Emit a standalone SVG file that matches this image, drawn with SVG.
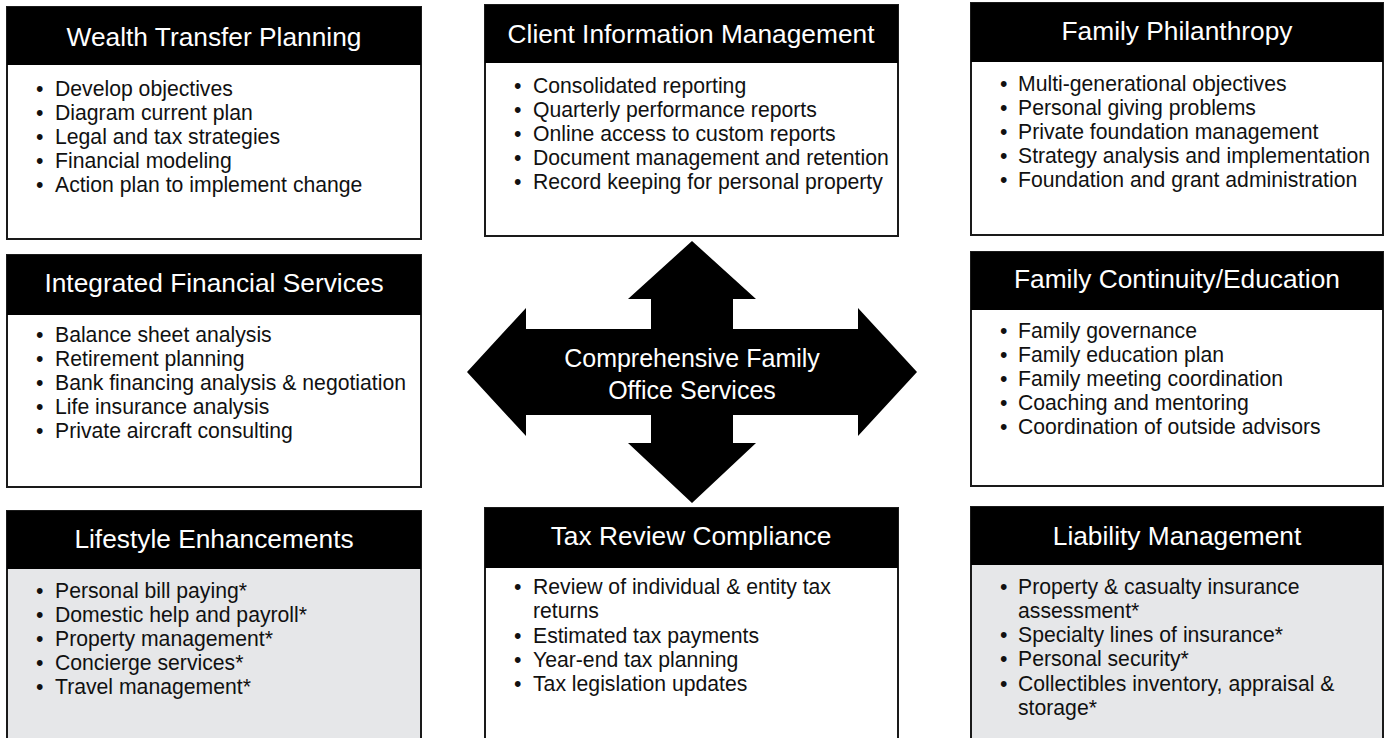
<svg xmlns="http://www.w3.org/2000/svg" width="1388" height="738" viewBox="0 0 1388 738">
<style>
.box{fill:#ffffff;stroke:#1a1a1a;stroke-width:2}
.gray{fill:#e6e7e9}
.hdr{fill:#000000}
.t{font-family:"Liberation Sans",Arial,sans-serif;font-size:26.3px;fill:#ffffff;text-anchor:middle}
.b{font-family:"Liberation Sans",Arial,sans-serif;font-size:21.2px;fill:#111111}
.c{font-family:"Liberation Sans",Arial,sans-serif;font-size:25px;fill:#ffffff;text-anchor:middle}
</style>
<rect width="1388" height="738" fill="#ffffff"/>
<g id="connectors"/>
<g id="center">
<path d="M692,241 L756,299 L733,299 L733,329 L858,329 L858,308 L917,372 L858,436 L858,415 L733,415 L733,443 L756,443 L692,503 L628,443 L651,443 L651,415 L526,415 L526,436 L467,372 L526,308 L526,329 L651,329 L651,299 L628,299 Z" fill="#000000"/>
<text class="c" x="692" y="367">Comprehensive Family</text>
<text class="c" x="692" y="399">Office Services</text>
</g>
<g id="wealth-transfer">
<rect class="box" x="7" y="7" width="414" height="232"/>
<rect class="hdr" x="7" y="7" width="414" height="58"/>
<text class="t" x="214" y="46">Wealth Transfer Planning</text>
<text class="b" x="36" y="96">•</text><text class="b" x="55" y="96">Develop objectives</text>
<text class="b" x="36" y="120">•</text><text class="b" x="55" y="120">Diagram current plan</text>
<text class="b" x="36" y="144">•</text><text class="b" x="55" y="144">Legal and tax strategies</text>
<text class="b" x="36" y="168">•</text><text class="b" x="55" y="168">Financial modeling</text>
<text class="b" x="36" y="192">•</text><text class="b" x="55" y="192">Action plan to implement change</text>
</g>
<g id="client-info">
<rect class="box" x="485" y="5" width="413" height="231"/>
<rect class="hdr" x="485" y="5" width="413" height="58"/>
<text class="t" x="691" y="43">Client Information Management</text>
<text class="b" x="514" y="93">•</text><text class="b" x="533" y="93">Consolidated reporting</text>
<text class="b" x="514" y="117">•</text><text class="b" x="533" y="117">Quarterly performance reports</text>
<text class="b" x="514" y="141">•</text><text class="b" x="533" y="141">Online access to custom reports</text>
<text class="b" x="514" y="165">•</text><text class="b" x="533" y="165">Document management and retention</text>
<text class="b" x="514" y="189">•</text><text class="b" x="533" y="189">Record keeping for personal property</text>
</g>
<g id="philanthropy">
<rect class="box" x="971" y="3" width="412" height="232"/>
<rect class="hdr" x="971" y="3" width="412" height="59"/>
<text class="t" x="1177" y="40">Family Philanthropy</text>
<text class="b" x="1000" y="91">•</text><text class="b" x="1018" y="91">Multi-generational objectives</text>
<text class="b" x="1000" y="115">•</text><text class="b" x="1018" y="115">Personal giving problems</text>
<text class="b" x="1000" y="139">•</text><text class="b" x="1018" y="139">Private foundation management</text>
<text class="b" x="1000" y="163">•</text><text class="b" x="1018" y="163">Strategy analysis and implementation</text>
<text class="b" x="1000" y="187">•</text><text class="b" x="1018" y="187">Foundation and grant administration</text>
</g>
<g id="integrated-financial">
<rect class="box" x="7" y="255" width="414" height="232"/>
<rect class="hdr" x="7" y="255" width="414" height="60"/>
<text class="t" x="214" y="292">Integrated Financial Services</text>
<text class="b" x="36" y="342">•</text><text class="b" x="55" y="342">Balance sheet analysis</text>
<text class="b" x="36" y="366">•</text><text class="b" x="55" y="366">Retirement planning</text>
<text class="b" x="36" y="390">•</text><text class="b" x="55" y="390">Bank financing analysis &amp; negotiation</text>
<text class="b" x="36" y="414">•</text><text class="b" x="55" y="414">Life insurance analysis</text>
<text class="b" x="36" y="438">•</text><text class="b" x="55" y="438">Private aircraft consulting</text>
</g>
<g id="continuity-education">
<rect class="box" x="971" y="252" width="412" height="234"/>
<rect class="hdr" x="971" y="252" width="412" height="58"/>
<text class="t" x="1177" y="288">Family Continuity/Education</text>
<text class="b" x="1000" y="338">•</text><text class="b" x="1018" y="338">Family governance</text>
<text class="b" x="1000" y="362">•</text><text class="b" x="1018" y="362">Family education plan</text>
<text class="b" x="1000" y="386">•</text><text class="b" x="1018" y="386">Family meeting coordination</text>
<text class="b" x="1000" y="410">•</text><text class="b" x="1018" y="410">Coaching and mentoring</text>
<text class="b" x="1000" y="434">•</text><text class="b" x="1018" y="434">Coordination of outside advisors</text>
</g>
<g id="lifestyle">
<rect class="box gray" x="7" y="511" width="414" height="240"/>
<rect class="hdr" x="7" y="511" width="414" height="58"/>
<text class="t" x="214" y="548">Lifestyle Enhancements</text>
<text class="b" x="36" y="598">•</text><text class="b" x="55" y="598">Personal bill paying*</text>
<text class="b" x="36" y="622">•</text><text class="b" x="55" y="622">Domestic help and payroll*</text>
<text class="b" x="36" y="646">•</text><text class="b" x="55" y="646">Property management*</text>
<text class="b" x="36" y="670">•</text><text class="b" x="55" y="670">Concierge services*</text>
<text class="b" x="36" y="694">•</text><text class="b" x="55" y="694">Travel management*</text>
</g>
<g id="tax-review">
<rect class="box" x="485" y="508" width="413" height="240"/>
<rect class="hdr" x="485" y="508" width="413" height="60"/>
<text class="t" x="691" y="545">Tax Review Compliance</text>
<text class="b" x="514" y="594">•</text><text class="b" x="533" y="594">Review of individual &amp; entity tax</text>
<text class="b" x="533" y="618">returns</text>
<text class="b" x="514" y="643">•</text><text class="b" x="533" y="643">Estimated tax payments</text>
<text class="b" x="514" y="667">•</text><text class="b" x="533" y="667">Year-end tax planning</text>
<text class="b" x="514" y="691">•</text><text class="b" x="533" y="691">Tax legislation updates</text>
</g>
<g id="liability">
<rect class="box gray" x="971" y="507" width="412" height="240"/>
<rect class="hdr" x="971" y="507" width="412" height="58"/>
<text class="t" x="1177" y="545">Liability Management</text>
<text class="b" x="1000" y="594">•</text><text class="b" x="1018" y="594">Property &amp; casualty insurance</text>
<text class="b" x="1018" y="618">assessment*</text>
<text class="b" x="1000" y="642">•</text><text class="b" x="1018" y="642">Specialty lines of insurance*</text>
<text class="b" x="1000" y="666">•</text><text class="b" x="1018" y="666">Personal security*</text>
<text class="b" x="1000" y="691">•</text><text class="b" x="1018" y="691">Collectibles inventory, appraisal &amp;</text>
<text class="b" x="1018" y="715">storage*</text>
</g>
</svg>
